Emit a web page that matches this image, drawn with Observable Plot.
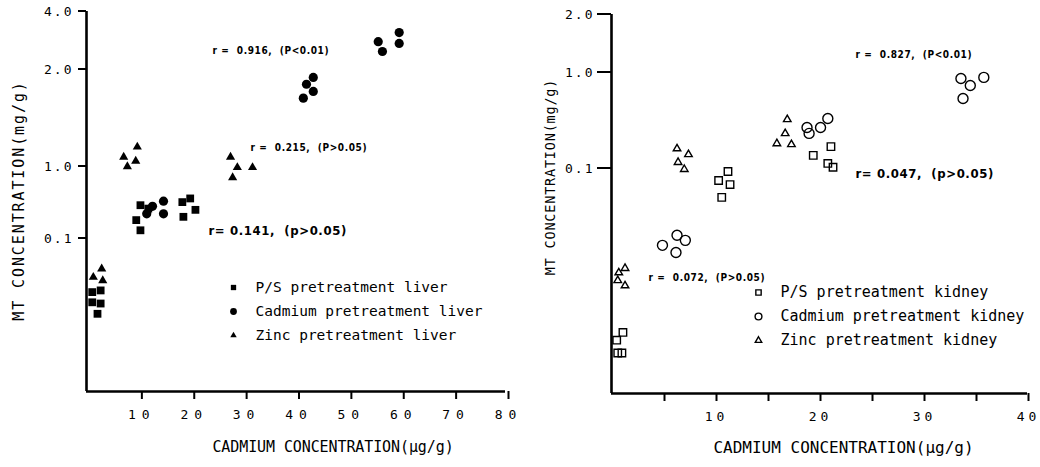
<!DOCTYPE html>
<html><head><meta charset="utf-8">
<script src="https://cdn.jsdelivr.net/npm/d3@7"></script>
<script src="https://cdn.jsdelivr.net/npm/@observablehq/plot@0.6"></script>
<style>
body{margin:0;background:#fff;}
#wrap{display:flex;width:1040px;height:467px;}
#wrap svg{font-family:"DejaVu Sans Mono",monospace;color:#000;}
g[aria-label="x-axis tick label"] text{font-size:13px;}
</style></head><body><div id="wrap"></div>
<script>
// ---- Left panel: liver ----
const psLiverX = [1.1, 2.7, 1.1, 2.7, 2.1, 10.3, 9.5, 10.3, 11.8, 19.8, 18.3, 20.8, 18.5];
const psLiverY = [0.018, 0.019, 0.013, 0.0125, 0.009, 0.29, 0.18, 0.13, 0.26, 0.36, 0.32, 0.25, 0.20];
const cdLiverX = [11.5, 12.6, 14.7, 14.7, 41.4, 42.0, 43.3, 43.3, 55.7, 56.5, 59.7, 59.7];
const cdLiverY = [0.22, 0.28, 0.33, 0.22, 1.63, 1.80, 1.89, 1.71, 2.79, 2.48, 3.11, 2.73];
const znLiverX = [1.3, 2.9, 3.1, 7.1, 7.8, 9.4, 9.7, 27.5, 28.8, 31.7, 27.9];
const znLiverY = [0.029, 0.038, 0.026, 1.07, 1.00, 1.04, 1.15, 1.07, 0.97, 0.97, 0.70];
// ---- Right panel: kidney ----
const psKidneyX = [1.1, 0.5, 0.6, 1.0, 11.2, 10.3, 11.4, 10.6, 21.1, 19.4, 20.8, 21.3];
const psKidneyY = [0.00195, 0.00162, 0.00119, 0.00119, 0.093, 0.075, 0.068, 0.050, 0.169, 0.137, 0.113, 0.103];
const cdKidneyX = [6.3, 7.1, 4.9, 6.2, 18.8, 19.0, 20.1, 20.8, 33.6, 35.8, 34.5, 33.8];
const cdKidneyY = [0.0201, 0.0178, 0.0158, 0.0133, 0.267, 0.232, 0.267, 0.332, 0.866, 0.889, 0.732, 0.536];
const znKidneyX = [1.3, 0.7, 0.6, 1.3, 6.3, 7.4, 6.4, 7.0, 16.9, 16.7, 15.9, 17.3];
const znKidneyY = [0.0091, 0.0082, 0.0068, 0.0060, 0.161, 0.140, 0.116, 0.098, 0.324, 0.232, 0.182, 0.178];

// ---- Axis ticks & texts ----
const leftYTicks = [0.1, 1.0, 2.0, 4.0];
const rightYTicks = [0.1, 1.0, 2.0];
const leftXTicks = [10, 20, 30, 40, 50, 60, 70, 80];
const rightXTicks = [5, 10, 15, 20, 25, 30, 35, 40];
const leftLegend = ["P/S pretreatment liver", "Cadmium pretreatment liver", "Zinc pretreatment liver"];
const rightLegend = ["P/S pretreatment kidney", "Cadmium pretreatment kidney", "Zinc pretreatment kidney"];
const leftNotes = ["r =  0.916,  (P<0.01)", "r =  0.215,  (P>0.05)", "r= 0.141,  (p>0.05)"];
const rightNotes = ["r =  0.827,  (P<0.01)", "r= 0.047,  (p>0.05)", "r =  0.072,  (P>0.05)"];
const xTitle = "CADMIUM CONCENTRATION(\u03bcg/g)";
const yTitle = "MT CONCENTRATION(mg/g)";

const zip = (xs, ys) => xs.map((x, i) => ({x, y: ys[i]}));
const symbols = ["square", "circle", "triangle"];
const fmt1 = d3.format(".1f");
const W = 520;

function panel(o) {
  const {series, legend, notes, noteOpts, filled, lg, yt, xt} = o;
  const marks = [];
  series.forEach((s, i) => {
    marks.push(Plot.dot(s, {x: "x", y: "y", symbol: symbols[i], r: o.rr[i],
      fill: filled ? "black" : "none", stroke: filled ? "none" : "black", strokeWidth: 1.4}));
  });
  marks.push(Plot.ruleX([o.xDomain[0]], {stroke: "black", strokeWidth: 2.6}));
  marks.push(Plot.ruleY([o.yDomain[0]], {stroke: "black", strokeWidth: 2.6}));
  marks.push(Plot.text(o.yTicks, {y: d => d, text: d => fmt1(d), frameAnchor: "left", dx: -(o.ytickSize + o.ytickPad),
    textAnchor: "end", lineAnchor: "middle", fontSize: 13}));
  marks.push(Plot.axisX({ticks: o.xTicks, tickFormat: o.xFmt, tickSize: 8, tickPadding: 10, strokeWidth: 2, label: null, dx: o.xdx}));
  notes.forEach((t, i) => {
    const n = noteOpts[i];
    marks.push(Plot.text([t], {text: d => d, frameAnchor: "top-left", dx: n.dx, dy: n.dy, fontSize: n.fs,
      fontFamily: "DejaVu Sans Condensed", fontWeight: "bold", textAnchor: "start", lineAnchor: "middle"}));
  });
  legend.forEach((t, i) => {
    marks.push(Plot.dot([t], {frameAnchor: "top-left", dx: lg.sx, dy: lg.y0 + i * lg.step, symbol: symbols[i], r: lg.r[i],
      fill: filled ? "black" : "none", stroke: filled ? "none" : "black", strokeWidth: 1.4}));
    marks.push(Plot.text([t], {text: d => d, frameAnchor: "top-left", dx: lg.tx, dy: lg.y0 + i * lg.step, fontSize: lg.fs,
      textAnchor: "start", lineAnchor: "middle"}));
  });
  marks.push(Plot.text([xTitle], {text: d => d, frameAnchor: "bottom", dx: xt.dx, dy: xt.dy, fontSize: xt.fs,
    textAnchor: "middle", lineAnchor: "middle"}));
  marks.push(Plot.text([yTitle], {text: d => d, frameAnchor: "left", rotate: -90, dx: yt.dx, dy: yt.dy, fontSize: yt.fs,
    textAnchor: "middle", lineAnchor: "middle"}));
  const svg = Plot.plot({
    width: W, height: 467,
    marginLeft: o.mL, marginRight: o.mR, marginTop: o.mT, marginBottom: o.mB,
    style: {background: "white", color: "black", overflow: "visible"},
    x: {type: "linear", domain: o.xDomain},
    y: {type: "log", domain: o.yDomain, range: o.yRange, axis: null},
    marks
  });
  const sel = d3.select(svg);
  // short left-pointing y tick marks, positioned with the plot's own scales
  const ys = svg.scale("y"), xs = svg.scale("x");
  const x0 = xs.apply(o.xDomain[0]);
  sel.append("g").attr("aria-label", "y-axis tick")
    .selectAll("line").data(o.yTicks).join("line")
    .attr("x1", x0 - o.ytickSize).attr("x2", x0)
    .attr("y1", d => ys.apply(d)).attr("y2", d => ys.apply(d))
    .attr("stroke", "black").attr("stroke-width", 2);
  const yLabels = o.yTicks.map(fmt1);
  sel.selectAll('g[aria-label="x-axis tick label"] text').style("letter-spacing", o.xls + "px");
  sel.selectAll("text").filter(function () { return yLabels.includes(this.textContent); }).style("letter-spacing", "2px");
  sel.selectAll("text").filter(function () { return this.textContent === yTitle; }).style("letter-spacing", yt.ls + "px");
  sel.selectAll("text").filter(function () { return this.textContent === xTitle; }).style("letter-spacing", xt.ls + "px");
  sel.selectAll("text").filter(function () { return notes.includes(this.textContent); }).style("letter-spacing", "0.6px");
  return svg;
}

const left = panel({
  series: [zip(psLiverX, psLiverY), zip(cdLiverX, cdLiverY), zip(znLiverX, znLiverY)],
  legend: leftLegend, notes: leftNotes, filled: true,
  noteOpts: [{dx: 126, dy: 39, fs: 10}, {dx: 164, dy: 136, fs: 10}, {dx: 122, dy: 219, fs: 13}],
  mL: 86, mR: 15, mT: 11, mB: 76,
  xDomain: [0, 80], yDomain: [0.00075, 0.1, 1, 2, 4], yRange: [391, 238, 166, 69, 11],
  yTicks: leftYTicks, xTicks: leftXTicks, xFmt: d => String(d), xls: 6, xdx: 3,
  ytickSize: 8, ytickPad: 5, rr: [4.4, 4.6, 3.4],
  lg: {sx: 147, tx: 169, y0: 276, step: 24, r: [3, 3.4, 2.4], fs: 14.5},
  yt: {dx: -67, dy: -1, fs: 15, ls: 1.9}, xt: {dx: 37, dy: 56, fs: 15, ls: -0.1}
});
const right = panel({
  series: [zip(psKidneyX, psKidneyY), zip(cdKidneyX, cdKidneyY), zip(znKidneyX, znKidneyY)],
  legend: rightLegend, notes: rightNotes, filled: false,
  noteOpts: [{dx: 244, dy: 40, fs: 10}, {dx: 244, dy: 159, fs: 13}, {dx: 37, dy: 263, fs: 10}],
  mL: 91, mR: 13, mT: 14, mB: 74,
  xDomain: [0, 40], yDomain: [0.00045, 0.1, 1, 2], yRange: [393, 168, 72, 14],
  yTicks: rightYTicks, xTicks: rightXTicks, xFmt: d => (d % 10 === 0 ? String(d) : ""), xls: 4, xdx: 1,
  ytickSize: 14, ytickPad: 3, rr: [4.2, 5, 2.8],
  lg: {sx: 147, tx: 169, y0: 278, step: 24, r: [3, 3.4, 2.4], fs: 15},
  yt: {dx: -61, dy: -27, fs: 13.5, ls: 0.8}, xt: {dx: 24, dy: 54, fs: 16, ls: 0}
});
document.getElementById("wrap").append(left, right);
</script></body></html>
